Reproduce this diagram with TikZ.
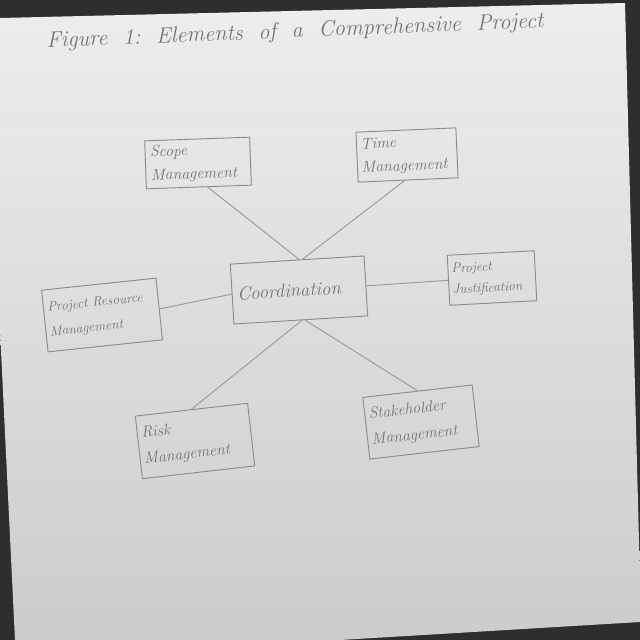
\documentclass[tikz,border=0pt]{standalone}
\begin{document}
\begin{tikzpicture}[x=0.03cm,y=-0.03cm,
  box/.style={draw=black!45, line width=0.8pt, inner sep=3pt, align=left, font=\itshape\fontsize{13.5}{20}\selectfont, text=black!55},
  link/.style={draw=black!40, line width=0.8pt}]
\useasboundingbox (0,0) rectangle (640,640);
\fill[black!82] (0,0) rectangle (640,640);
\shade[top color=black!7, bottom color=black!20] (0,18) -- (625,3) -- (640,580) -- (640,622) -- (340,640) -- (15,640) -- (0,330) -- cycle;
\node[rotate=2.3, text=black!55, font=\itshape\fontsize{19}{22}\selectfont] (title) at (295,32) {Figure~~1:~~Elements~~of~~a~~Comprehensive~~Project};
\node[box, rotate=2, minimum width=105*0.03cm, minimum height=48*0.03cm, text width=95*0.03cm] (scope) at (198,163) {Scope\\Management};
\node[box, rotate=2.5, minimum width=100*0.03cm, minimum height=50*0.03cm, text width=92*0.03cm] (time) at (407,155) {Time\\Management};
\node[box, rotate=3, minimum width=87*0.03cm, minimum height=50*0.03cm, text width=80*0.03cm, font=\itshape\fontsize{11.5}{18}\selectfont] (just) at (492,278) {Project\\Justification};
\node[box, rotate=3.5, minimum width=134*0.03cm, minimum height=60*0.03cm, text width=124*0.03cm, font=\itshape\fontsize{16}{18}\selectfont] (coord) at (299,290) {Coordination};
\node[box, rotate=6, minimum width=115*0.03cm, minimum height=62*0.03cm, text width=107*0.03cm, font=\itshape\fontsize{11.5}{21}\selectfont] (res) at (102,315) {Project Resource\\Management};
\node[box, rotate=6.5, minimum width=113*0.03cm, minimum height=63*0.03cm, text width=105*0.03cm, font=\itshape\fontsize{13.5}{22}\selectfont] (risk) at (195,441) {Risk\\Management};
\node[box, rotate=6.5, minimum width=110*0.03cm, minimum height=62*0.03cm, text width=102*0.03cm, font=\itshape\fontsize{13.5}{22}\selectfont] (stake) at (421,422) {Stakeholder\\Management};
\draw[link] (scope.-70) -- (coord.86);
\draw[link] (time.-98) -- (coord.80);
\draw[link] (just.west) -- (coord.east);
\draw[link] (res.east) -- (coord.west);
\draw[link] (coord.-88) -- (risk.90);
\draw[link] (coord.-82) -- (stake.90);
\end{tikzpicture}
\end{document}
